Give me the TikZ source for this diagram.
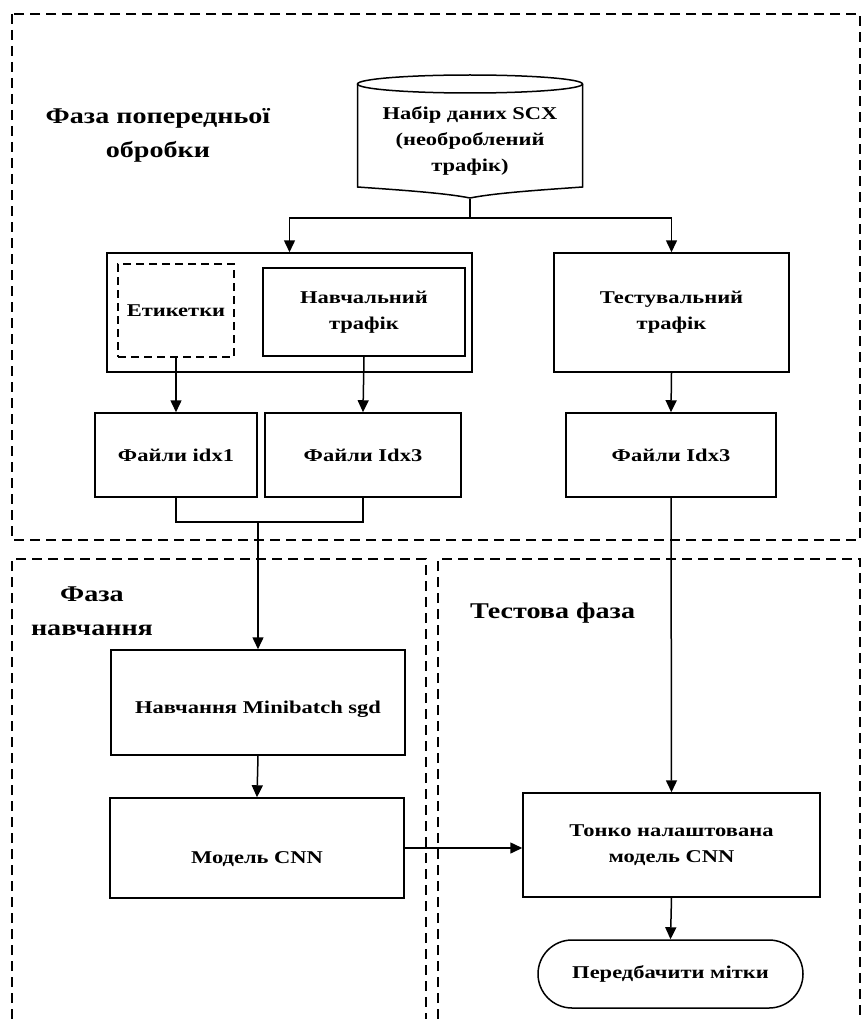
\documentclass[tikz,border=0pt]{standalone}
\usepackage{fontspec}
\setmainfont{Liberation Serif}[FakeStretch=1.25]
\usetikzlibrary{arrows.meta}

\begin{document}
\begin{tikzpicture}[x=1pt,y=-1pt,
  line width=1.5pt,
  boxfont/.style={font=\fontsize{18}{26}\selectfont\bfseries},
  box/.style={draw, rectangle, align=center, inner sep=0pt, boxfont},
  region/.style={draw, dash pattern=on 10pt off 6pt, line width=1.5pt},
  phase/.style={align=center, font=\fontsize{22.5}{34}\selectfont\bfseries},
  arr/.style={-{Triangle[length=12pt,width=11pt]}}]
\useasboundingbox (0,0) rectangle (862,1019);

% phase regions
\draw[region] (12,14) rectangle (860,540);
\draw[region] (12,1019) -- (12,559) -- (426,559) -- (426,1019);
\draw[region] (438,1019) -- (438,559) -- (860,559) -- (860,1019);

% phase titles
\node[phase] (tpre) at (158,135) {Фаза попередньої\\обробки};
\node[phase] (ttrain) at (92,611) {Фаза\\навчання};
\node[phase, anchor=west] (ttest) at (466,613) {Тестова фаза};

% raw data store
\node[boxfont, align=center, minimum width=225pt, minimum height=114pt, inner sep=0pt]
  (data) at (470,141) {Набір даних SCX\\(необроблений\\трафік)};
\draw (357.5,84) -- (357.5,187) .. controls (400,190) and (445,193) .. (470,198)
  .. controls (495,193) and (540,190) .. (582.5,187) -- (582.5,84);
\draw (470,84) ellipse [x radius=112.5, y radius=9];

% preprocessing
\node[box, minimum width=365pt, minimum height=119pt] (grp) at (289.5,312.5) {};
\node[box, dash pattern=on 8pt off 5pt, minimum width=116pt, minimum height=93pt] (lab) at (176,310.5) {Етикетки};
\node[box, minimum width=202pt, minimum height=88pt] (trn) at (364,312) {Навчальний\\трафік};
\node[box, minimum width=235pt, minimum height=119pt] (tst) at (671.5,312.5) {Тестувальний\\трафік};
\node[box, minimum width=162pt, minimum height=84pt] (f1) at (176,455) {Файли idx1};
\node[box, minimum width=196pt, minimum height=84pt] (f3) at (363,455) {Файли Idx3};
\node[box, minimum width=210pt, minimum height=84pt] (f3t) at (671,455) {Файли Idx3};

% training and testing (labels sit slightly below centre)
\node[box, text height=22pt, text depth=0pt, minimum width=294pt, minimum height=105pt] (train) at (258,702.5) {Навчання Minibatch sgd};
\node[box, text height=30pt, text depth=0pt, minimum width=294pt, minimum height=100pt] (model) at (257,848) {Модель CNN};
\node[box, minimum width=297pt, minimum height=104pt] (fine) at (671.5,845) {Тонко налаштована\\модель CNN};
\node[box, rounded corners=34pt, minimum width=265pt, minimum height=68pt] (pred) at (670.5,974) {Передбачити мітки};

% connectors
\coordinate (fork) at (470,218);
\coordinate (join) at (258,522);
\draw (data.south) -- (fork);
\draw[arr] (fork) -| (grp.north);
\draw[arr] (fork) -| (tst.north);
\draw[arr] (lab.south) -- (f1.north);
\draw[arr] (trn.south) -- (f3.north);
\draw[arr] (tst.south) -- (f3t.north);
\draw (f1.south) |- (join) -| (f3.south);
\draw[arr] (join) -- (train.north);
\draw[arr] (train.south) -- (model.north);
\draw[arr] (f3t.south) -- (fine.north);
\draw[arr] (model.east) -- (model.east -| fine.west);
\draw[arr] (fine.south) -- (pred.north);
\end{tikzpicture}
\end{document}
